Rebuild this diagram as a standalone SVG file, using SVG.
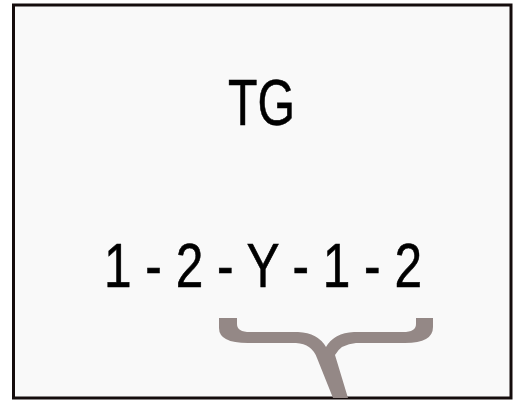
<svg xmlns="http://www.w3.org/2000/svg" width="514" height="400" viewBox="0 0 514 400">
<style>
.t{font-family:"Liberation Sans Narrow","Liberation Sans",Arial,sans-serif;fill:#000;stroke:#000;stroke-width:0.6}
</style>
<rect x="0" y="0" width="514" height="400" fill="#ffffff"/>
<g id="frame">
<rect x="13.5" y="5" width="497.5" height="393" fill="#f9f9f9" stroke="#140c0c" stroke-width="3"/>
</g>
<g id="title">
<text class="t" x="228" y="125" font-size="65" textLength="67" lengthAdjust="spacingAndGlyphs">TG</text>
</g>
<g id="sequence">
<text class="t" x="104" y="287" font-size="63" textLength="318" lengthAdjust="spacingAndGlyphs">1 - 2 - Y - 1 - 2</text>
</g>
<g id="brace">
<path fill="#948886" d="M219,318 L237,318 L237,324 Q237,332 250,332 L298,332 Q318,333 326,347 Q334,333 354,332 L403,332 Q416,332 416,324 L416,318 L433,318 L433,327 Q433,343 405,343 L356,343 Q341,344 335,355 L348,398 L333,398 L317,358 Q312,344 296,343 L248,343 Q219,343 219,328 Z"/>
</g>
</svg>
